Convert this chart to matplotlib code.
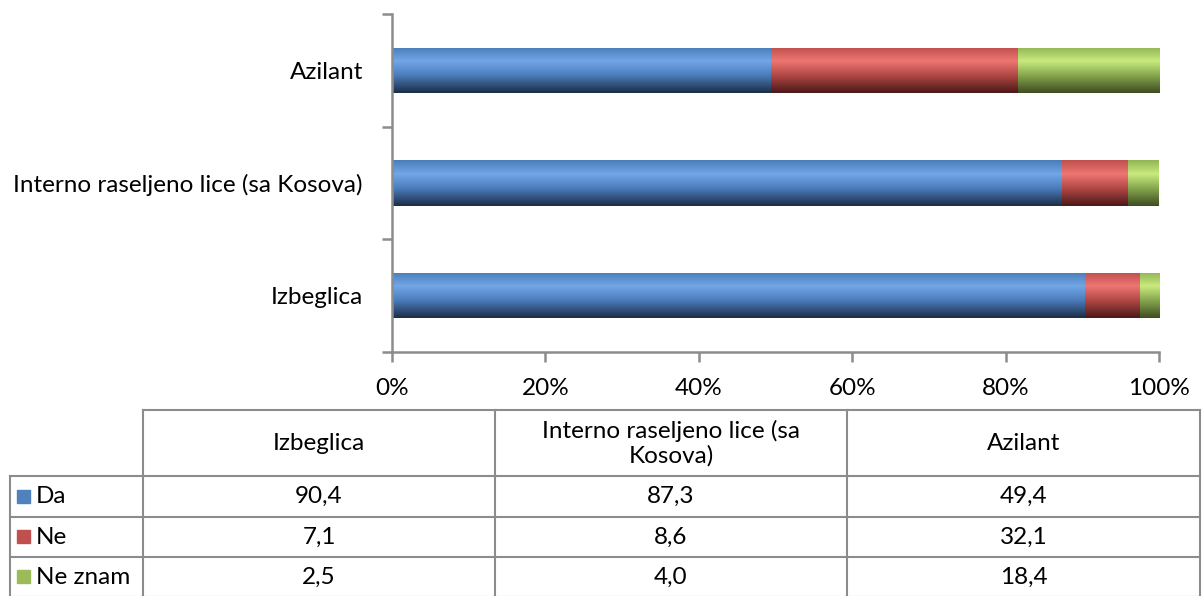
import numpy as np
import matplotlib.pyplot as plt
from matplotlib.colors import LinearSegmentedColormap

plt.rcParams['font.family'] = ['Lato', 'DejaVu Sans']

categories = ['Izbeglica', 'Interno raseljeno lice (sa Kosova)', 'Azilant']
header_labels = ['Izbeglica', 'Interno raseljeno lice (sa\nKosova)', 'Azilant']
series = ['Da', 'Ne', 'Ne znam']
da = [90.4, 87.3, 49.4]
ne = [7.1, 8.6, 32.1]
ne_znam = [2.5, 4.0, 18.4]
x_ticks = [0, 20, 40, 60, 80, 100]

# colours: flat legend colour, plus gradient stops (top, highlight, bottom)
flat = ['#4f81bd', '#c0504d', '#9bbb59']
grads = [['#4a7ebb', '#72a6e6', '#4d7fbf', '#1c2e48'],
         ['#c0504d', '#ee7672', '#b44a47', '#4d1918'],
         ['#93b655', '#c8ea7e', '#8aaa50', '#3f4e22']]

FS = 17.5
W, H = 1203, 596
fig = plt.figure(figsize=(W / 100, H / 100), dpi=100)
ax = fig.add_axes([392 / W, 1 - 352 / H, (1159 - 392) / W, (352 - 14) / H])

data = np.array([da, ne, ne_znam])
pct = data / data.sum(axis=0) * 100
y = np.arange(len(categories))
left = np.zeros(len(categories))
for i in range(len(series)):
    bars = ax.barh(y, pct[i], left=left, height=0.4, color=flat[i], edgecolor='none')
    cmap = LinearSegmentedColormap.from_list('g%d' % i, list(zip([0, 0.3, 0.6, 1], grads[i])))
    grad = np.linspace(0, 1, 64).reshape(-1, 1)
    for b in bars:
        x0, y0, w, h = b.get_x(), b.get_y(), b.get_width(), b.get_height()
        im = ax.imshow(grad, cmap=cmap, aspect='auto', origin='upper',
                       extent=[x0, x0 + w, y0, y0 + h], zorder=2)
        im.set_clip_path(b)
    left += pct[i]

ax.set_xlim(0, 100)
ax.set_ylim(-0.5, len(categories) - 0.5)
ax.set_xticks(x_ticks)
ax.set_xticklabels(['%d%%' % t for t in x_ticks], fontsize=FS)
ax.set_yticks(np.arange(-0.5, len(categories), 1.0))
ax.set_yticklabels([])
ax.set_yticks(y, minor=True)
ax.set_yticklabels(categories, minor=True, fontsize=FS)
ax.tick_params(axis='y', which='minor', length=0, pad=21)
ax.tick_params(axis='y', which='major', length=7, color='#8c8c8c', width=1.8)
ax.tick_params(axis='x', length=7, color='#8c8c8c', width=1.8, pad=12)
for s in ['top', 'right']:
    ax.spines[s].set_visible(False)
for s in ['left', 'bottom']:
    ax.spines[s].set_color('#8c8c8c')
    ax.spines[s].set_linewidth(1.8)

# data table below the chart, drawn in pixel coordinates
tb = fig.add_axes([0, 0, 1, 1], zorder=-1)
tb.set_xlim(0, W)
tb.set_ylim(H, 0)
tb.axis('off')
lc = '#8c8c8c'
col_x = [10, 143, 495, 847, 1200]
row_y = [410, 476, 517, 557, 597]
tb.plot([143, 1200], [410, 410], color=lc, lw=1.5)
for yy in row_y[1:]:
    tb.plot([10, 1200], [yy, yy], color=lc, lw=1.5)
tb.plot([10, 10], [476, 597], color=lc, lw=1.5)
for xx in col_x[1:]:
    tb.plot([xx, xx], [410, 597], color=lc, lw=1.5)
for j, lab in enumerate(header_labels):
    tb.text((col_x[j + 1] + col_x[j + 2]) / 2, 443, lab, ha='center', va='center',
            fontsize=FS, linespacing=1.15)
for i, s in enumerate(series):
    yc = (row_y[i + 1] + row_y[i + 2]) / 2
    tb.add_patch(plt.Rectangle((17, yc - 7), 13, 13, color=flat[i]))
    tb.text(36, yc, s, ha='left', va='center', fontsize=FS)
    for j in range(len(categories)):
        tb.text((col_x[j + 1] + col_x[j + 2]) / 2, yc, ('%.1f' % data[i, j]).replace('.', ','),
                ha='center', va='center', fontsize=FS)

fig.savefig('out.png', dpi=100)
